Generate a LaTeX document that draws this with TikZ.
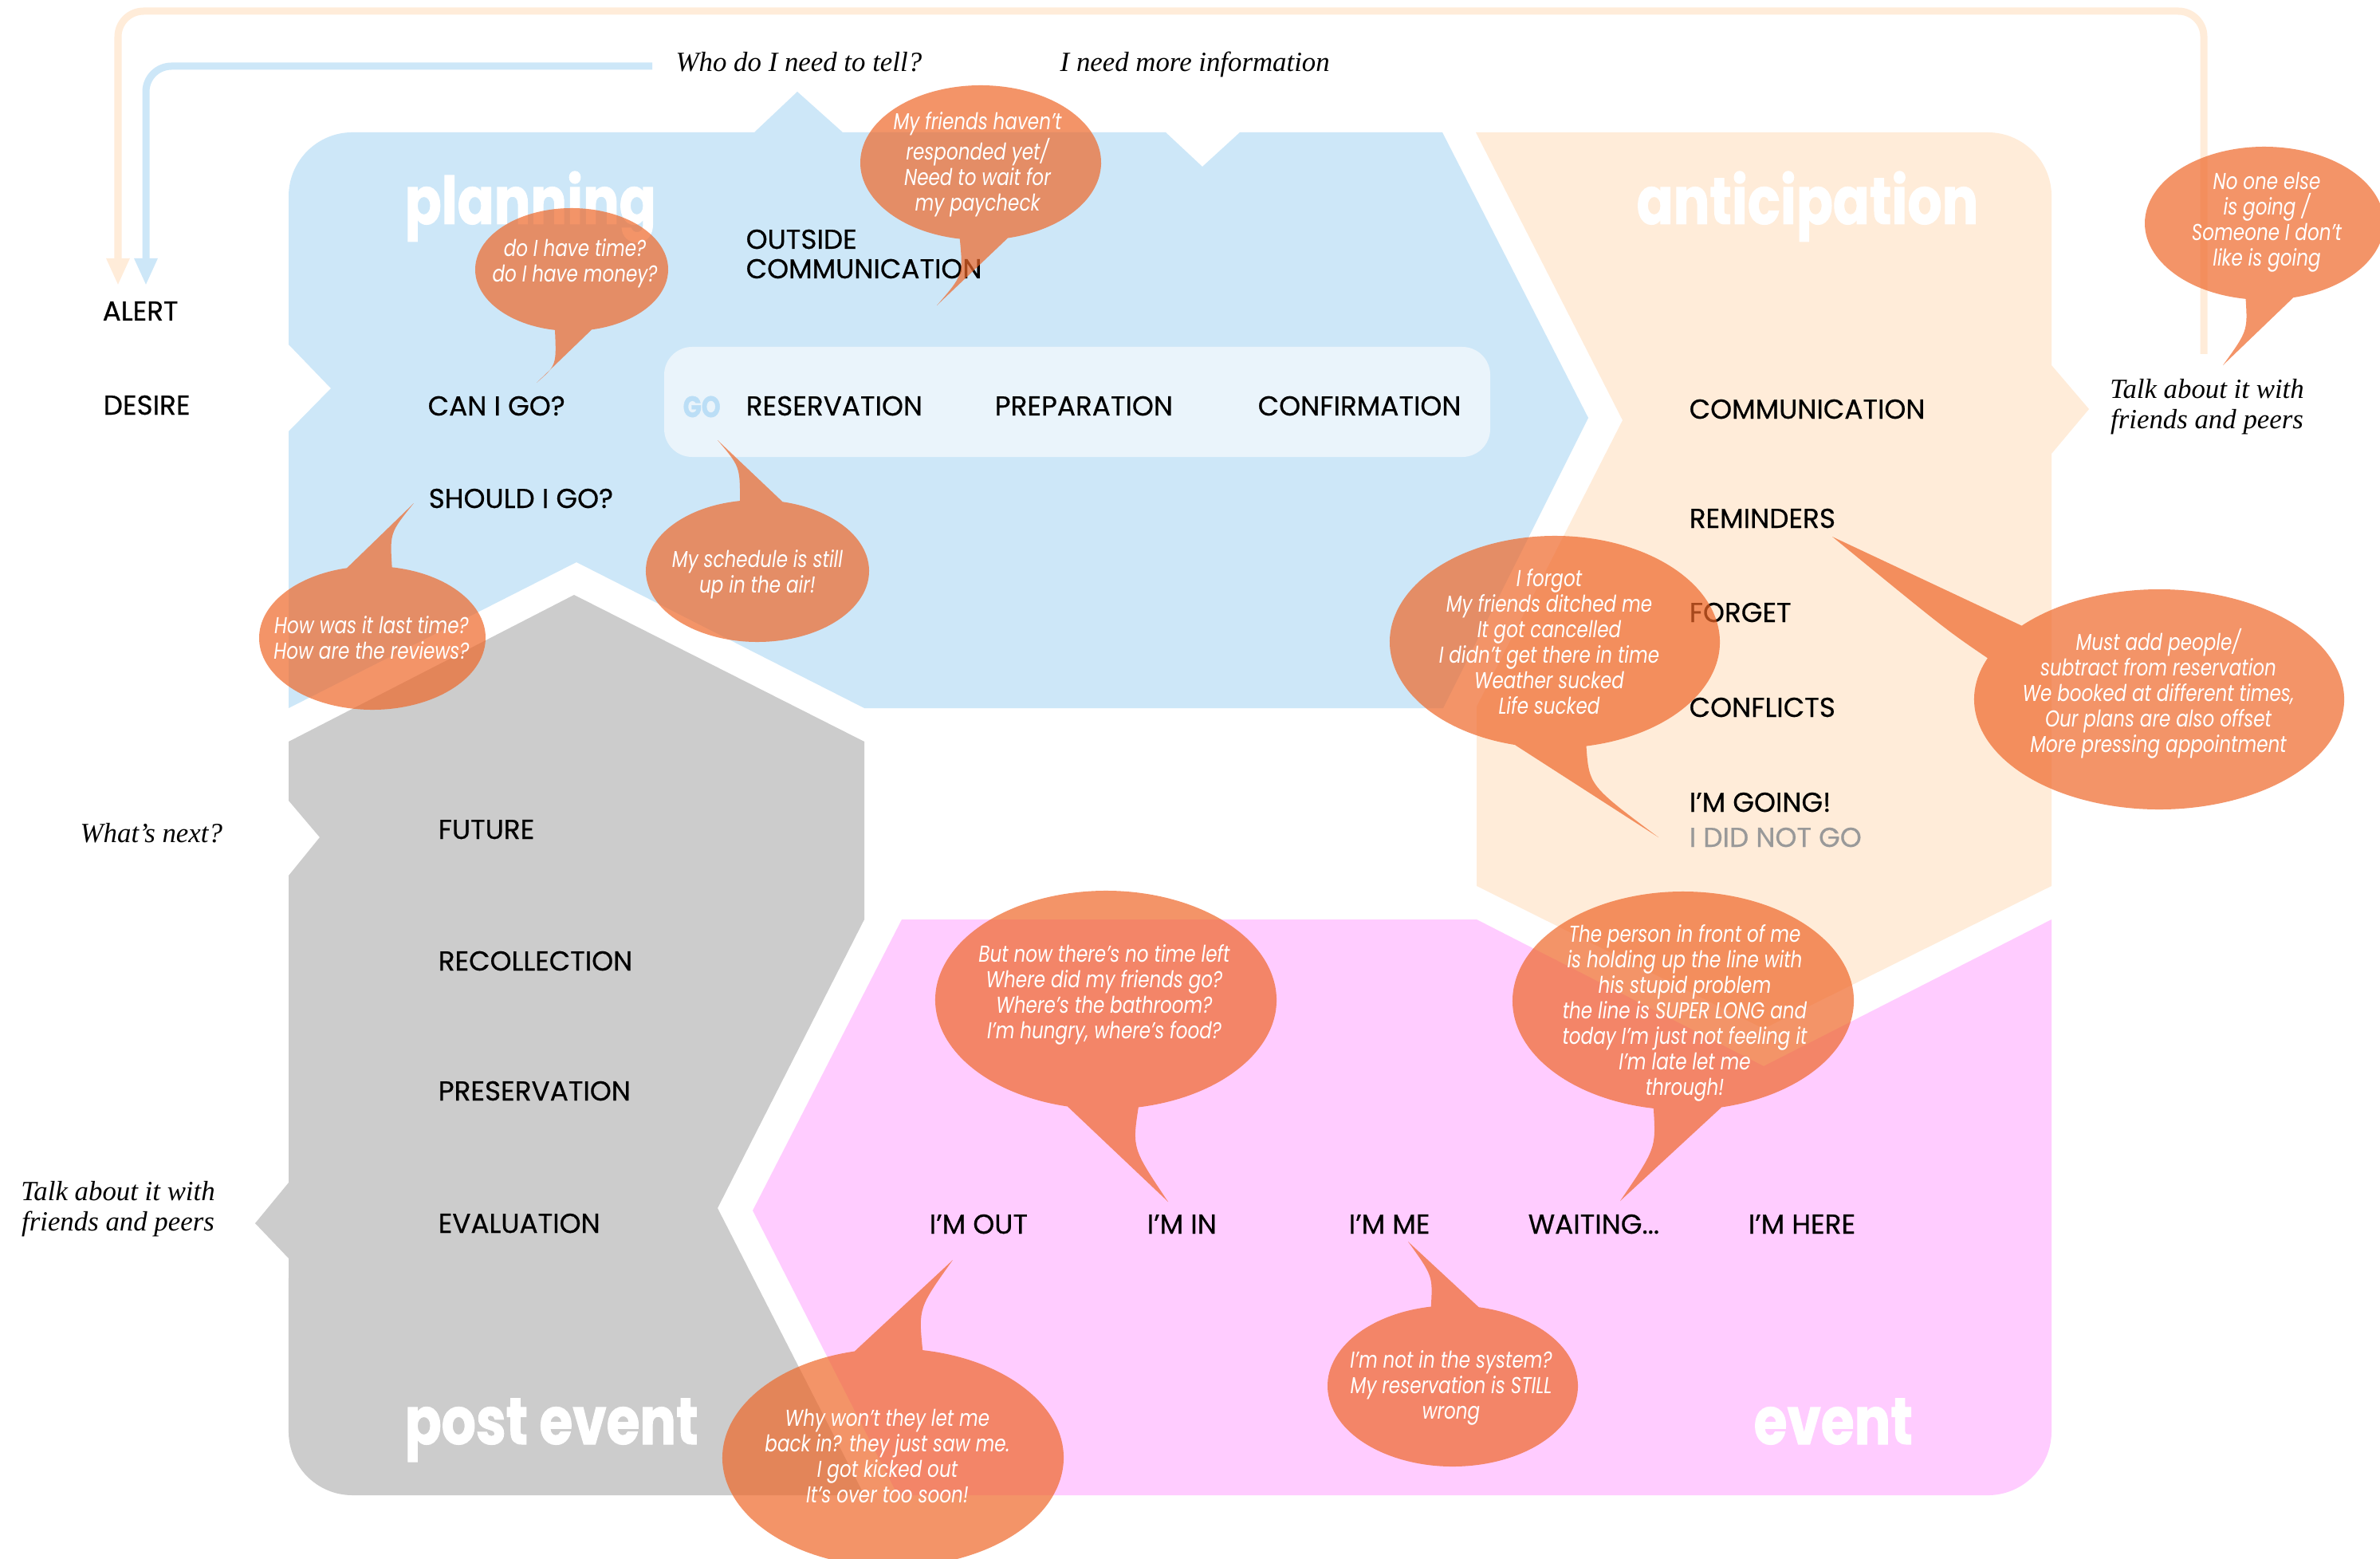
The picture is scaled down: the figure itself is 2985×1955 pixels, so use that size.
\documentclass[tikz,border=0pt]{standalone}
\usepackage{fontspec}
\setmainfont{Liberation Serif}
\newfontfamily\labfont{Poppins}[FakeStretch=1.0, FakeBold=0.5]
\newfontfamily\bubfont{Poppins}[FakeStretch=0.8]
\newfontfamily\headfont{Poppins}[FakeStretch=0.82, FakeBold=1.2]
\usetikzlibrary{arrows.meta,calc}

\definecolor{planblue}{RGB}{205,231,248}
\definecolor{antpeach}{RGB}{255,236,217}
\definecolor{evpink}{RGB}{255,204,255}
\definecolor{postgray}{RGB}{204,204,204}
\definecolor{rowblue}{RGB}{234,244,251}
\definecolor{gotext}{RGB}{187,222,246}
\definecolor{bubcol}{RGB}{238,103,41}
\definecolor{notgo}{RGB}{153,153,153}

\tikzset{
  lab/.style={anchor=base west, inner sep=0pt, font=\labfont\fontsize{9.75}{11}\selectfont},
  ital/.style={inner sep=0pt, font=\itshape\fontsize{9.9}{10.9}\selectfont},
  head/.style={anchor=base west, inner sep=0pt, text=white, font=\headfont\bfseries\fontsize{23.5}{26}\selectfont},
  bub/.style={fill=bubcol, fill opacity=0.7},
  btext/.style={text=white, align=center, inner sep=0pt, font=\bubfont\itshape\fontsize{8.2}{9.1}\selectfont},
  flowline/.style={line width=0.09cm, rounded corners=0.32cm, -{Triangle[width=0.27cm,length=0.34cm]}},
}

% speech bubble: centre x, centre y, x radius, y radius,
% start angle (curved side of the tail), end angle, tail tip, control point
\newcommand\bubble[8]{%
  \fill[bub] (#1,#2) ++(#5:#3 and #4) coordinate (bp)
    arc[start angle=#5, end angle=#6, x radius=#3*0.01cm, y radius=#4*0.01cm]
    -- (#7) .. controls (#8) .. (bp) -- cycle;}

\begin{document}
\begin{tikzpicture}[x=0.01cm, y=0.01cm, yscale=-1]
\useasboundingbox (0,0) rectangle (2985,1955);
\fill[white] (0,0) rectangle (2985,1955);

% planning
\fill[planblue] (362,888) -- (362,541) -- (415,487) -- (362,432) -- (362,246)
  arc[start angle=180, end angle=270, radius=0.8cm]
  -- (946,166) -- (1000,115) -- (1057,166) -- (1462,166) -- (1508,209) -- (1555,166)
  -- (1809,166) -- (1992,524) -- (1810,888) -- (1084,888) -- (723,705) -- cycle;
\fill[rowblue, rounded corners=0.35cm] (833,435) rectangle (1869,573);

% anticipation
\fill[antpeach] (1851,166) -- (2493,166)
  arc[start angle=270, end angle=360, radius=0.8cm]
  -- (2573,458) -- (2620,513) -- (2573,569) -- (2573,1111) -- (2212,1290)
  -- (1852,1111) -- (1852,886) -- (2035,527) -- cycle;

% event
\fill[evpink] (1131,1153) -- (1852,1153) -- (2212,1337) -- (2573,1153) -- (2573,1795)
  arc[start angle=0, end angle=90, radius=0.8cm]
  -- (1126,1875) -- (944,1518) -- cycle;

% post event
\fill[postgray] (362,930) -- (720,746) -- (1084,930) -- (1084,1153) -- (900,1515)
  -- (1084,1875) -- (442,1875)
  arc[start angle=90, end angle=180, radius=0.8cm]
  -- (362,1578) -- (320,1534) -- (362,1483) -- (362,1098) -- (401,1050) -- (362,1004) -- cycle;

% feedback lines
\coordinate (topline) at (0,14);
\coordinate (peachFrom) at (2764,444);
\coordinate (peachTo) at (148,358);
\coordinate (blueFrom) at (818,83);
\coordinate (blueTo) at (183,358);
\draw[flowline, antpeach] (peachFrom) -- (peachFrom |- topline) -| (peachTo);
\draw[flowline, planblue] (blueFrom) -| (blueTo);

% headings
\node[head] (hplan) at (507,281) {planning};
\node[head] (hant) at (2052,281) {anticipation};
\node[head] (hpost) at (507,1811) {post event};
\node[head] (hev) at (2199,1811) {event};

% side notes
\node[ital, anchor=base west] (tell) at (847,90) {Who do I need to tell?};
\node[ital, anchor=base west] (info) at (1329,90) {I need more information};
\node[ital, anchor=base west] (next) at (100,1056) {What’s next?};
\node[ital, align=center] (talkL) at (148,1516) {Talk about it with\\friends and peers};
\node[ital, align=center] (talkR) at (2768,510) {Talk about it with\\friends and peers};

% stage labels
\node[lab] (alert) at (128,402) {ALERT};
\node[lab] (desire) at (129,520) {DESIRE};
\node[lab] (cango) at (536,521) {CAN I GO?};
\node[lab] (should) at (537,637) {SHOULD I GO?};
\node[lab] (out1) at (935,312) {OUTSIDE};
\node[lab] (out2) at (935,349) {COMMUNICATION};
\node[anchor=base west, inner sep=0pt, text=gotext, font=\headfont\bfseries\fontsize{10.5}{12}\selectfont] (go) at (856,523) {GO};
\node[lab] (resv) at (935,521) {RESERVATION};
\node[lab] (prep) at (1247,521) {PREPARATION};
\node[lab] (conf) at (1577,521) {CONFIRMATION};

\node[lab] (comm) at (2118,525) {COMMUNICATION};
\node[lab] (remind) at (2118,662) {REMINDERS};
\node[lab] (forget) at (2118,780) {FORGET};
\node[lab] (confl) at (2118,899) {CONFLICTS};
\node[lab] (going) at (2118,1018) {I’M GOING!};
\node[lab, text=notgo] (notgo) at (2118,1062) {I DID NOT GO};

\node[lab] (future) at (549,1052) {FUTURE};
\node[lab] (recoll) at (549,1217) {RECOLLECTION};
\node[lab] (preserv) at (549,1380) {PRESERVATION};
\node[lab] (evalu) at (549,1546) {EVALUATION};

\node[lab] (imout) at (1165,1547) {I’M OUT};
\node[lab] (imin) at (1438,1547) {I’M IN};
\node[lab] (imme) at (1691,1547) {I’M ME};
\node[lab] (waiting) at (1916,1547) {WAITING...};
\node[lab] (imhere) at (2192,1547) {I’M HERE};

% speech bubbles
\bubble{717}{338}{121}{77}{100}{438}{673,480}{698,458}
\bubble{1230}{204}{151}{97}{100}{437}{1175,383}{1208,345}
\bubble{467}{800}{142}{90}{280}{617}{519,631}{489,668}
\bubble{950}{716}{140}{89}{261}{-77}{900,552}{928,585}
\bubble{2840}{280}{150}{96}{99}{436}{2788,458}{2819,415}
\bubble{1950}{805}{207}{133}{79}{-256}{2080,1050}{1993,985}
\bubble{2708}{877}{232}{138}{202}{-138}{2298,673}{2441,790}
\bubble{1387}{1254}{214}{137}{79}{-257}{1465,1507}{1420,1440}
\bubble{2111}{1255}{214}{137}{100}{437}{2032,1506}{2077,1440}
\bubble{1822}{1738}{157}{101}{260}{-78}{1766,1557}{1797,1600}
\bubble{1120}{1828}{214}{137}{280}{617}{1195,1580}{1152,1640}

\node[btext] (t1) at (721,330) {do I have time?\\do I have money?};
\node[btext] (t2) at (1226,206) {My friends haven’t\\responded yet/\\Need to wait for\\my paycheck};
\node[btext] (t3) at (466,800) {How was it last time?\\How are the reviews?};
\node[btext] (t4) at (950,720) {My schedule is still\\up in the air!};
\node[btext] (t5) at (2843,279) {No one else\\is going /\\Someone I don’t\\like is going};
\node[btext] (t6) at (1943,805) {I forgot\\My friends ditched me\\It got cancelled\\I didn’t get there in time\\Weather sucked\\Life sucked};
\node[btext] (t7) at (2707,870) {Must add people/\\subtract from reservation\\We booked at different times,\\Our plans are also offset\\More pressing appointment};
\node[btext] (t8) at (1385,1247) {But now there’s no time left\\Where did my friends go?\\Where’s the bathroom?\\I’m hungry, where’s food?};
\node[btext] (t9) at (2113,1270) {The person in front of me\\is holding up the line with\\his stupid problem\\the line is SUPER LONG and\\today I’m just not feeling it\\I’m late let me\\through!};
\node[btext] (t10) at (1820,1740) {I’m not in the system?\\My reservation is STILL\\wrong};
\node[btext] (t11) at (1113,1826) {Why won’t they let me\\back in? they just saw me.\\I got kicked out\\It’s over too soon!};
\end{tikzpicture}
\end{document}
